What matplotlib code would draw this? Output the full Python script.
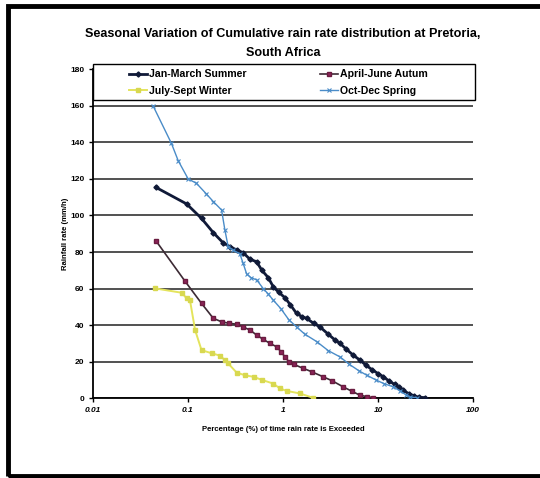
import matplotlib
matplotlib.use("Agg")
import matplotlib.pyplot as plt
from matplotlib.patches import Rectangle
from matplotlib.ticker import FixedLocator, FixedFormatter

plt.rcParams["font.family"] = ["Liberation Sans", "DejaVu Sans"]

# Exceedance curves, x = % of time, y = rain rate (mm/h)
summer_x = [0.046, 0.097, 0.139, 0.185, 0.235, 0.277, 0.33, 0.382, 0.45, 0.528, 0.6, 0.7,
            0.79, 0.9, 1.05, 1.2, 1.39, 1.6, 1.77, 2.1, 2.45, 3.0, 3.5, 3.98, 4.6, 5.5,
            6.47, 7.5, 8.7, 10, 11.4, 13, 15, 16.5, 18.4, 21, 24, 27, 31.3]
summer_y = [115.4, 106.3, 98.4, 90.6, 85, 82.9, 81, 79.6, 76, 74.7, 70, 66,
            61, 58, 55, 51, 46.4, 44.5, 43.7, 41, 39, 35, 32, 30, 27, 23.5,
            20.8, 18, 15.5, 13.5, 11.7, 9.5, 7.5, 6, 4.4, 2.5, 1.2, 0.5, 0.3]

autumn_x = [0.046, 0.093, 0.139, 0.185, 0.226, 0.27, 0.326, 0.38, 0.45, 0.53, 0.62, 0.73,
            0.86, 0.95, 1.05, 1.15, 1.3, 1.64, 2.0, 2.65, 3.3, 4.3, 5.3, 6.47, 7.7, 8.9]
autumn_y = [86.2, 64.1, 51.9, 43.7, 41.8, 41, 40.5, 39, 37.3, 34.5, 32.2, 30,
            28.1, 25.5, 22.6, 20, 18.5, 16.3, 14.5, 11.7, 9.5, 6.2, 3.8, 1.6, 0.8, 0.3]

winter_x = [0.045, 0.086, 0.097, 0.105, 0.119, 0.139, 0.18, 0.217, 0.245, 0.265, 0.326,
            0.4, 0.49, 0.6, 0.79, 0.93, 1.09, 1.5, 2.08]
winter_y = [60.1, 57.7, 54.6, 53.7, 37.3, 26.3, 24.5, 23.3, 20.8, 19, 14,
            12.5, 11.7, 10, 8, 5.3, 4, 2.6, 0.2]

spring_x = [0.043, 0.067, 0.079, 0.1006, 0.123, 0.155, 0.185, 0.226, 0.245, 0.265, 0.3,
            0.352, 0.38, 0.415, 0.46, 0.53, 0.62, 0.7, 0.79, 0.95, 1.15, 1.39, 1.7, 2.26,
            3.0, 3.98, 5.0, 6.3, 7.6, 9.5, 11.5, 14.5, 17, 19.5, 21.7, 25.5]
spring_y = [160, 139.5, 130, 120, 117.6, 112, 107.6, 103, 92, 83, 81,
            79, 74, 68, 66, 64.7, 60, 57, 53.7, 49, 43, 39, 35, 31,
            26, 22.6, 18.5, 15, 12.6, 10, 8, 6.2, 4, 2, 0.7, 0.2]

x_ticks = [0.01, 0.1, 1, 10, 100]
x_labels = ["0.01", "0.1", "1", "10", "100"]
y_ticks = [0, 20, 40, 60, 80, 100, 120, 140, 160, 180]

fig = plt.figure(figsize=(5.4, 4.78), dpi=100)
fig.patch.set_facecolor("white")

# page frame
fig.add_artist(Rectangle((0.015, 0.004), 1.2, 0.984, transform=fig.transFigure,
                         fill=False, edgecolor="black", linewidth=3.5))

ax = fig.add_axes([0.172, 0.167, 0.704, 0.688])
ax.set_xscale("log")
ax.set_xlim(0.01, 100)
ax.set_ylim(0, 180)

l_sum, = ax.plot(summer_x, summer_y, color="#101a38", lw=2.0, marker="D", ms=2.6,
                 label="Jan-March Summer", zorder=4)
l_aut, = ax.plot(autumn_x, autumn_y, color="#3c2a34", lw=1.2, marker="s", ms=3.2,
                 markerfacecolor="#8c2458", markeredgecolor="#6a1c40",
                 label="April-June Autum", zorder=3)
l_win, = ax.plot(winter_x, winter_y, color="#e4e45c", lw=1.4, marker="s", ms=2.4,
                 markerfacecolor="#d8d850", markeredgecolor="#d8d850",
                 label="July-Sept Winter", zorder=3)
l_spr, = ax.plot(spring_x, spring_y, color="#4a8cc8", lw=1.0, marker="x", ms=2.5,
                 markeredgewidth=0.8, label="Oct-Dec Spring", zorder=5)

ax.xaxis.set_major_locator(FixedLocator(x_ticks))
ax.xaxis.set_major_formatter(FixedFormatter(x_labels))
ax.xaxis.set_minor_locator(FixedLocator([]))
ax.set_yticks(y_ticks)
ax.grid(axis="y", color="#222222", lw=1.1)
ax.set_axisbelow(True)
for s in ["top", "right"]:
    ax.spines[s].set_visible(False)
for s in ["left", "bottom"]:
    ax.spines[s].set_linewidth(1.3)
ax.tick_params(axis="both", direction="out", length=3, width=1, labelsize=6, pad=3)
for lab in ax.get_xticklabels():
    lab.set_fontstyle("italic")
    lab.set_fontweight("bold")
for lab in ax.get_yticklabels():
    lab.set_fontweight("bold")

ax.set_xlabel("Percentage (%) of time rain rate is Exceeded", fontsize=5.6,
              fontweight="bold", labelpad=9)
ax.set_ylabel("Rainfall rate (mm/h)", fontsize=5.6, fontweight="bold", labelpad=1)

fig.text(0.524, 0.929, "Seasonal Variation of Cumulative rain rate distribution at Pretoria,",
         ha="center", va="center", fontsize=9.1, fontweight="bold")
fig.text(0.524, 0.889, "South Africa", ha="center", va="center", fontsize=9.1,
         fontweight="bold")

# legend box over the top of the plot area, two columns of entries
fig.add_artist(Rectangle((93 / 540, 1 - 100 / 478), 382 / 540, 36 / 478,
                         transform=fig.transFigure, facecolor="white",
                         edgecolor="black", linewidth=1.0, zorder=6))
leg_style = dict(loc="center left", frameon=False, borderpad=0,
                 labelspacing=0.6, handlelength=1.75, handletextpad=0.15,
                 borderaxespad=0, prop={"weight": "bold", "size": 7.6})
leg1 = fig.legend([l_sum, l_win], ["Jan-March Summer", "July-Sept Winter"],
                  bbox_to_anchor=(129 / 540, 1 - 82.5 / 478), **leg_style)
leg2 = fig.legend([l_aut, l_spr], ["April-June Autum", "Oct-Dec Spring"],
                  bbox_to_anchor=(320 / 540, 1 - 82.5 / 478), **leg_style)
leg1.set_zorder(7)
leg2.set_zorder(7)

fig.savefig("out.png", dpi=100, facecolor="white")
